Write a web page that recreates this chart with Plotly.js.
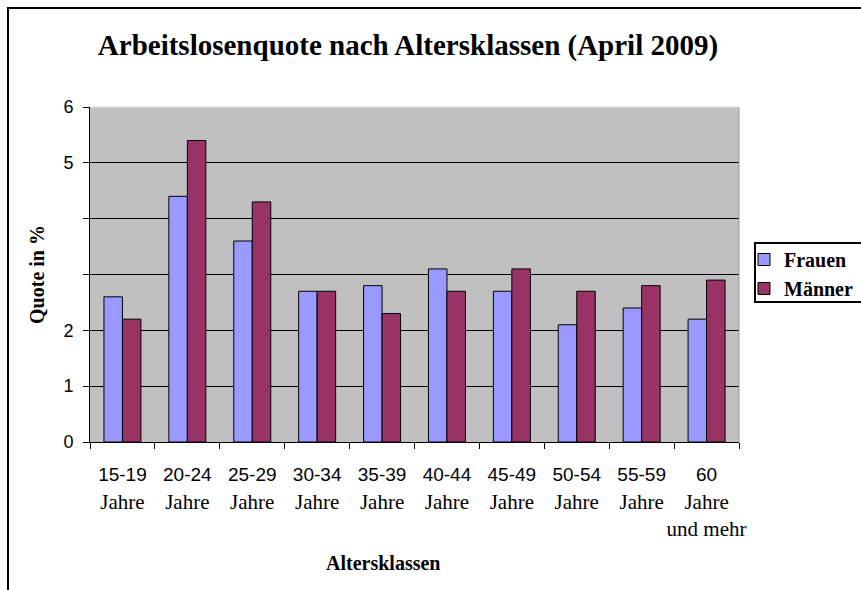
<!DOCTYPE html>
<html>
<head>
<meta charset="utf-8">
<script src="https://cdn.plot.ly/plotly-3.0.1.min.js"></script>
<style>
html,body{margin:0;padding:0;background:#fff;}
#chart{width:861px;height:590px;}
</style>
</head>
<body>
<div id="chart"></div>
<script>
// ---- data ----
const categories = ["15-19", "20-24", "25-29", "30-34", "35-39", "40-44", "45-49", "50-54", "55-59", "60"];
const categorySuffix = ["Jahre", "Jahre", "Jahre", "Jahre", "Jahre", "Jahre", "Jahre", "Jahre", "Jahre", "Jahre<br>und mehr"];
const frauen  = [2.6, 4.4, 3.6, 2.7, 2.8, 3.1, 2.7, 2.1, 2.4, 2.2];
const maenner = [2.2, 5.4, 4.3, 2.7, 2.3, 2.7, 3.1, 2.7, 2.8, 2.9];
const yTickValues = [0, 1, 2, 3, 4, 5, 6];
const yTickLabels = ["0", "1", "2", "", "", "5", "6"];
const seriesNames = ["Frauen", "Männer"];
const titleText = "Arbeitslosenquote nach Altersklassen (April 2009)";
const yTitleText = "Quote in %";
const xTitleText = "Altersklassen";

// ---- layout helpers ----
const W = 861, H = 590;
const M = {l: 90, r: 122, t: 107, b: 148, autoexpand: false};
const PW = W - M.l - M.r, PH = H - M.t - M.b;
const px = x => (x - M.l) / PW;           // pixel -> paper x
const py = y => (H - M.b - y) / PH;       // pixel -> paper y

const narrow = "font-family:'Liberation Sans Narrow','Liberation Sans',Arial,sans-serif;font-size:19px";
const xTickText = categories.map((c, i) => `<span style="${narrow}">${c}</span><br>${categorySuffix[i]}`);

const serif = "'Liberation Serif','Times New Roman',serif";

const traces = [
  {type: "bar", name: seriesNames[0], x: categories, y: frauen,
   marker: {color: "#9999FF", line: {color: "#000", width: 1}}},
  {type: "bar", name: seriesNames[1], x: categories, y: maenner,
   marker: {color: "#993366", line: {color: "#000", width: 1}}}
];

const layout = {
  width: W, height: H,
  margin: M,
  paper_bgcolor: "#fff",
  plot_bgcolor: "#C0C0C0",
  barmode: "group",
  bargap: 0.43,
  bargroupgap: 0,
  showlegend: true,
  hovermode: false,
  title: {
    text: "<b>" + titleText + "</b>",
    font: {family: serif, size: 29, color: "#000"},
    xref: "container", x: 408 / W, xanchor: "center",
    yref: "container", y: 1 - 45 / H, yanchor: "middle",
    automargin: false
  },
  xaxis: {
    type: "category",
    automargin: false,
    tickmode: "array",
    tickvals: categories,
    ticktext: xTickText,
    tickangle: 0,
    tickson: "boundaries",
    ticks: "outside", ticklen: 6, tickcolor: "#000", tickwidth: 1,
    ticklabelstandoff: 13,
    showline: true, linecolor: "#000", linewidth: 1,
    showgrid: false,
    tickfont: {family: serif, size: 21, color: "#000"},
    fixedrange: true
  },
  yaxis: {
    range: [0, 6],
    automargin: false,
    tickmode: "array",
    tickvals: yTickValues,
    ticktext: yTickLabels,
    ticks: "outside", ticklen: 6, tickcolor: "#000", tickwidth: 1,
    ticklabelstandoff: 6,
    showline: true, linecolor: "#000", linewidth: 1,
    showgrid: true, gridcolor: "#000", gridwidth: 1,
    zeroline: false,
    tickfont: {family: "'Liberation Sans',Arial,sans-serif", size: 18, color: "#000"},
    title: {text: "<b>" + yTitleText + "</b>", font: {family: serif, size: 20, color: "#000"}, standoff: 13},
    fixedrange: true
  },
  legend: {
    x: px(744), xanchor: "left",
    y: py(240), yanchor: "top",
    bgcolor: "rgba(0,0,0,0)",
    borderwidth: 0,
    font: {family: serif, size: 20, color: "#000", weight: "bold"},
    itemclick: false, itemdoubleclick: false
  },
  annotations: [
    {text: "<b>" + xTitleText + "</b>", xref: "paper", yref: "paper",
     x: px(383), y: py(563), xanchor: "center", yanchor: "middle", showarrow: false,
     font: {family: serif, size: 20, color: "#000"}}
  ],
  shapes: [
    // outer chart frame
    {type: "rect", xref: "paper", yref: "paper", x0: px(8), x1: px(880), y0: py(8), y1: py(610),
     line: {color: "#000", width: 2}, layer: "above"},
    // legend frame
    {type: "rect", xref: "paper", yref: "paper", x0: px(755), x1: px(880), y0: py(243), y1: py(302),
     line: {color: "#000", width: 2}, layer: "above"},
    // plot area border (top / right)
    {type: "line", xref: "paper", yref: "paper", x0: 0, x1: 1, y0: 1, y1: 1,
     line: {color: "#E0E0E0", width: 1}, layer: "above"},
    {type: "line", xref: "paper", yref: "paper", x0: 1, x1: 1, y0: 0, y1: 1,
     line: {color: "#9A9A9A", width: 1}, layer: "above"}
  ]
};

Plotly.newPlot("chart", traces, layout, {displayModeBar: false, staticPlot: true});
</script>
</body>
</html>
